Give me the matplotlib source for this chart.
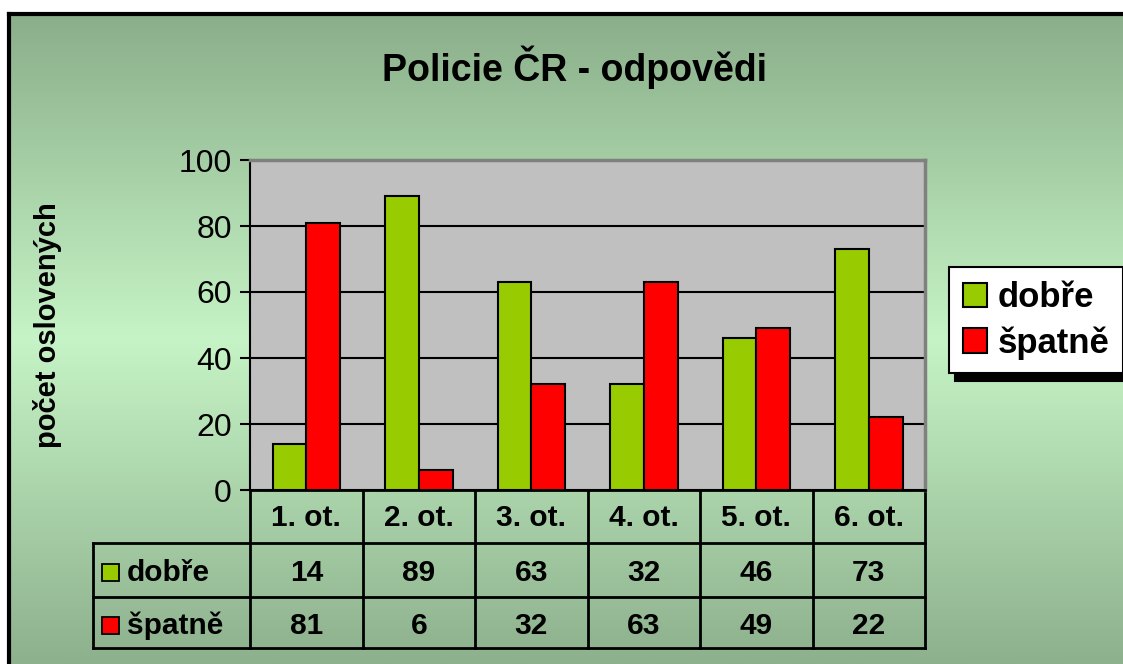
import numpy as np
import matplotlib
matplotlib.use("Agg")
import matplotlib.pyplot as plt
from matplotlib.colors import LinearSegmentedColormap
from matplotlib.patches import Rectangle
from matplotlib.transforms import blended_transform_factory

plt.rcParams['font.family'] = ['Liberation Sans', 'DejaVu Sans']

# ----------------------------
# DATA
# ----------------------------
categories = ["1. ot.", "2. ot.", "3. ot.", "4. ot.", "5. ot.", "6. ot."]
series_names = ["dobře", "špatně"]
dobre = [14, 89, 63, 32, 46, 73]
spatne = [81, 6, 32, 63, 49, 22]
colors = ["#99CC00", "#FF0000"]
yticks = [0, 20, 40, 60, 80, 100]

W, H = 1123, 664


def fig_rect(x0, y0, x1, y1):
    # pixel box (top-left origin) -> figure fraction
    return [x0 / W, 1 - y1 / H, (x1 - x0) / W, (y1 - y0) / H]


fig = plt.figure(figsize=(W / 100, H / 100), dpi=100)

# ----------------------------
# BACKGROUND (gradient + frame)
# ----------------------------
bg = fig.add_axes([0, 0, 1, 1])
bg.set_xlim(0, W)
bg.set_ylim(H, 0)
bg.axis("off")
cmap = LinearSegmentedColormap.from_list(
    "g", [(0, "#8AAE8A"), (0.5, "#C6F4C6"), (1, "#8DB08D")])
grad = np.linspace(0, 1, 256).reshape(-1, 1)
bg.imshow(grad, cmap=cmap, aspect="auto", extent=[9, W, H, 14], zorder=0)
bg.add_patch(Rectangle((0, 0), W, 14, color="white", zorder=1))
bg.plot([9, W], [14, 14], color="black", lw=3, zorder=2)
bg.plot([9, 9], [14, H], color="black", lw=3, zorder=2)

# ----------------------------
# BAR CHART
# ----------------------------
ax = fig.add_axes(fig_rect(250, 160, 925, 490))
ax.set_facecolor("#C0C0C0")
x = np.arange(len(categories))
w = 0.3
b1 = ax.bar(x - w / 2, dobre, w, color=colors[0], edgecolor="black", lw=1.5, zorder=3)
b2 = ax.bar(x + w / 2, spatne, w, color=colors[1], edgecolor="black", lw=1.5, zorder=3)
ax.set_xlim(-0.5, len(categories) - 0.5)
ax.set_ylim(0, 100)
ax.set_yticks(yticks)
ax.yaxis.grid(True, color="black", lw=1.5)
ax.set_axisbelow(True)
ax.tick_params(axis="y", labelsize=23, length=7, width=1.5, color="black", pad=6)
ax.set_xticks([])
for s in ["top", "right"]:
    ax.spines[s].set_color("#808080")
    ax.spines[s].set_linewidth(2.5)
ax.spines["left"].set_linewidth(1.5)
ax.spines["bottom"].set_linewidth(2)

fig.text(575 / W, 1 - 67 / H, "Policie ČR - odpovědi", fontsize=27,
         fontweight="bold", ha="center", va="center")
ax.set_ylabel("počet oslovených", fontsize=21, fontweight="bold")
ax.yaxis.set_label_coords((62 - 250) / 675, (490 - 325) / 330)

# ----------------------------
# DATA TABLE
# ----------------------------
trans = blended_transform_factory(ax.transData, ax.transAxes)
tra = ax.transAxes


def ay(py):
    return (490 - py) / 330


rows = [490, 543, 597, 648]
left_ax = (93 - 250) / 675
lw = 2
for i in range(len(categories) + 1):
    ax.plot([i - 0.5, i - 0.5], [ay(490), ay(648)], transform=trans,
            color="black", lw=lw, clip_on=False)
ax.plot([left_ax, left_ax], [ay(543), ay(648)], transform=tra,
        color="black", lw=lw, clip_on=False)
for py in rows[1:]:
    ax.plot([left_ax, 1], [ay(py), ay(py)], transform=tra,
            color="black", lw=lw, clip_on=False)

for i, c in enumerate(categories):
    ax.text(i, ay(518), c, transform=trans, ha="center", va="center",
            fontsize=21.5, fontweight="bold", clip_on=False)
for r, (name, vals, col) in enumerate(zip(series_names, [dobre, spatne], colors)):
    yc = ay(573 + r * 53)
    for i, v in enumerate(vals):
        ax.text(i, yc, str(v), transform=trans, ha="center", va="center",
                fontsize=21.5, fontweight="bold", clip_on=False)
    ax.add_patch(Rectangle(((102 - 250) / 675, yc - 8 / 330), 17 / 675, 17 / 330,
                           transform=tra, facecolor=col, edgecolor="black",
                           lw=1.3, clip_on=False))
    ax.text((127 - 250) / 675, yc, name, transform=tra, ha="left", va="center",
            fontsize=21.5, fontweight="bold", clip_on=False)

# ----------------------------
# LEGEND
# ----------------------------
leg = fig.legend([b1, b2], series_names, loc="upper left",
                 bbox_to_anchor=(949 / W, 1 - 267 / H),
                 prop={"size": 25, "weight": "bold"}, frameon=True,
                 fancybox=False, edgecolor="black", framealpha=1,
                 handlelength=0.7, handleheight=0.7, handletextpad=0.3,
                 labelspacing=0.35, borderpad=0.4, borderaxespad=0,
                 shadow={"color": "black", "alpha": 1, "ox": 4.5, "oy": -5.5})
leg.get_frame().set_linewidth(1.5)

fig.savefig("out.png", dpi=100)
